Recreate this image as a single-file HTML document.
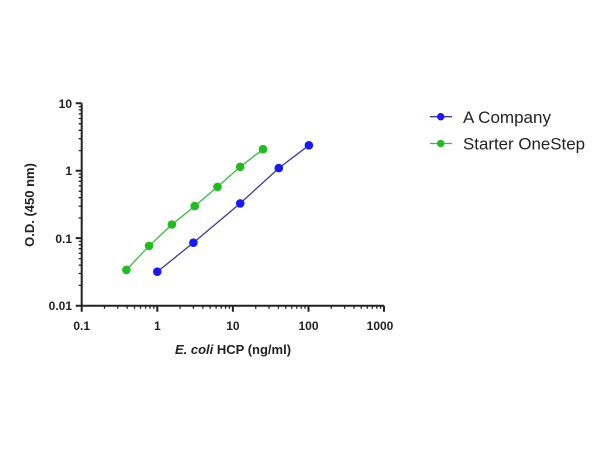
<!DOCTYPE html>
<html><head><meta charset="utf-8"><style>
html,body{margin:0;padding:0;background:#fff;}
svg{display:block;}
text{font-family:"Liberation Sans",Arial,sans-serif;font-weight:bold;fill:#222;}
</style></head><body>
<svg width="600" height="450" viewBox="0 0 600 450" xmlns="http://www.w3.org/2000/svg">
<defs>
<path id="xm" d="M22.8,305.7v3M36.1,305.7v3M45.5,305.7v3M52.8,305.7v3M58.8,305.7v3M63.9,305.7v3M68.3,305.7v3M72.1,305.7v3" stroke="#222" stroke-width="1.3" fill="none"/>
<path id="ym" d="M0,-20.3h-3M0,-32.2h-3M0,-40.6h-3M0,-47.1h-3M0,-52.4h-3M0,-57h-3M0,-60.9h-3M0,-64.3h-3" stroke="#222" stroke-width="1.3" fill="none"/>
</defs>
<g stroke="#222" stroke-width="2" fill="none">
<path d="M81.7,103.3V305.7H384"/>
<path d="M81.7,103.3h-6M81.7,170.7h-6M81.7,238.1h-6M81.7,305.7h-6"/>
<path d="M81.7,305.7v6M157.3,305.7v6M232.9,305.7v6M308.5,305.7v6M384,305.7v6"/>
</g>
<use href="#xm" x="81.7"/><use href="#xm" x="157.3"/><use href="#xm" x="232.9"/><use href="#xm" x="308.5"/>
<g transform="translate(81.7,0)"><use href="#ym" y="305.7"/><use href="#ym" y="238.3"/><use href="#ym" y="170.9"/></g>
<g font-size="12" text-anchor="end">
<text x="72" y="108">10</text><text x="72" y="175">1</text><text x="72" y="243">0.1</text><text x="72" y="310">0.01</text>
</g>
<g font-size="12" text-anchor="middle">
<text x="81.7" y="330">0.1</text><text x="157.3" y="330">1</text><text x="232.9" y="330">10</text><text x="308.5" y="330">100</text><text x="380" y="330">1000</text>
</g>
<text x="233" y="354" font-size="13" text-anchor="middle"><tspan font-style="italic">E. coli</tspan> HCP (ng/ml)</text>
<text transform="translate(34,205) rotate(-90)" font-size="13" text-anchor="middle">O.D. (450 nm)</text>
<polyline points="126.4,269.9 149.1,245.9 171.9,224.5 194.7,206.1 217.5,186.9 240.2,166.8 263,149.2" fill="none" stroke="#3dbb3d" stroke-width="1.3"/>
<polyline points="157.3,271.7 193.4,242.7 240.2,203.4 278.8,168.1 308.9,145.3" fill="none" stroke="#3a3a9a" stroke-width="1.3"/>
<g fill="#22bb22">
<circle cx="126.4" cy="269.9" r="4.3"/><circle cx="149.1" cy="245.9" r="4.3"/><circle cx="171.9" cy="224.5" r="4.3"/><circle cx="194.7" cy="206.1" r="4.3"/><circle cx="217.5" cy="186.9" r="4.3"/><circle cx="240.2" cy="166.8" r="4.3"/><circle cx="263" cy="149.2" r="4.3"/>
</g>
<g fill="#1a1aee">
<circle cx="157.3" cy="271.7" r="4.3"/><circle cx="193.4" cy="242.7" r="4.3"/><circle cx="240.2" cy="203.4" r="4.3"/><circle cx="278.8" cy="168.1" r="4.3"/><circle cx="308.9" cy="145.3" r="4.3"/>
</g>
<line x1="430" y1="116.7" x2="452" y2="116.7" stroke="#3a3a9a" stroke-width="1.3"/>
<circle cx="440.7" cy="116.7" r="3.7" fill="#1a1aee"/>
<line x1="430" y1="143.5" x2="452" y2="143.5" stroke="#3dbb3d" stroke-width="1.3"/>
<circle cx="440.7" cy="143.5" r="3.7" fill="#22bb22"/>
<text x="463" y="123" font-size="16.5" style="font-weight:normal" textLength="88" lengthAdjust="spacingAndGlyphs">A Company</text>
<text x="463" y="149.5" font-size="16.5" style="font-weight:normal" textLength="122" lengthAdjust="spacingAndGlyphs">Starter OneStep</text>
</svg>
</body></html>
